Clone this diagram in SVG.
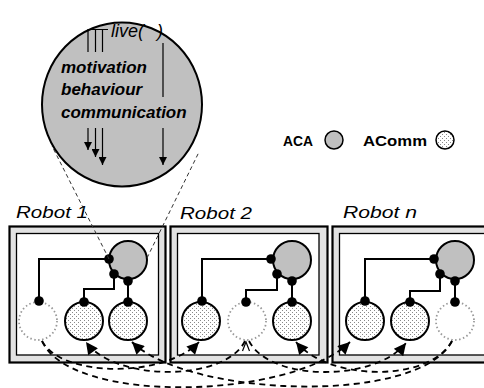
<svg xmlns="http://www.w3.org/2000/svg" width="484" height="388" viewBox="0 0 484 388">
  <style>
    .box-outer { fill: #e2e2e2; stroke: #000; stroke-width: 2.2; }
    .box-inner { fill: #fff; stroke: #000; stroke-width: 1.3; }
    .label { font-family: "Liberation Sans", Arial, sans-serif; font-style: italic; font-size: 16px; fill: #000; }
    .legend { font-family: "Liberation Sans", Arial, sans-serif; font-weight: bold; font-size: 14px; fill: #000; }
    .zoom-text { font-family: "Liberation Sans", Arial, sans-serif; font-style: italic; font-weight: bold; font-size: 17px; fill: #000; }
    .aca { fill: #c0c0c0; stroke: #000; stroke-width: 2; }
    .acomm { fill: url(#stipple); stroke: #000; stroke-width: 2; }
    .idle { fill: #fff; stroke: #999; stroke-width: 1.8; stroke-dasharray: 1.5 2.5; }
    .port { fill: #000; }
    .wire { fill: none; stroke: #000; stroke-width: 2; }
    .msg { fill: none; stroke: #000; stroke-width: 1.8; stroke-dasharray: 6 4.5; }
    .lens { fill: none; stroke: #333; stroke-width: 1; stroke-dasharray: 4 3; }
    .flow { fill: none; stroke: #000; stroke-width: 1.2; }
  </style>
  <defs>
    <pattern id="stipple" width="4" height="4" patternUnits="userSpaceOnUse">
      <rect width="4" height="4" fill="#fff"/>
      <rect x="0" y="0" width="1" height="1" fill="#888"/>
      <rect x="2" y="2" width="1" height="1" fill="#888"/>
    </pattern>
    <marker id="head" viewBox="0 0 10 10" refX="10" refY="5" markerWidth="14" markerHeight="12" markerUnits="userSpaceOnUse" orient="auto">
      <path d="M0,0 L10,5 L0,10 z" fill="#000"/>
    </marker>
    <marker id="head-small" viewBox="0 0 10 10" refX="10" refY="5" markerWidth="11" markerHeight="8" markerUnits="userSpaceOnUse" orient="auto">
      <path d="M0,0 L10,5 L0,10 z" fill="#000"/>
    </marker>
  </defs>

  <rect width="484" height="388" fill="#fff"/>

  <!-- legend -->
  <g id="legend">
    <text class="legend" x="283" y="146" textLength="30" lengthAdjust="spacingAndGlyphs">ACA</text>
    <circle cx="334" cy="140" r="9" fill="#c0c0c0" stroke="#000" stroke-width="1.5"/>
    <text class="legend" x="363" y="146" textLength="64" lengthAdjust="spacingAndGlyphs">AComm</text>
    <circle cx="445" cy="140" r="9" fill="url(#stipple)" stroke="#000" stroke-width="1.5"/>
  </g>

  <!-- robot 1 -->
  <g id="robot1">
    <text class="label" x="16" y="218" textLength="72" lengthAdjust="spacingAndGlyphs">Robot 1</text>
    <rect class="box-outer" x="9.5" y="226.5" width="156" height="136"/>
    <rect class="box-inner" x="16.5" y="233.5" width="142" height="121.5"/>
    <path class="wire" d="M109,259 H39 V301 M114,274 V289 H84 V302 M128,281 V302"/>
    <circle class="aca" cx="128" cy="260" r="19"/>
    <circle class="idle" cx="38" cy="321" r="19"/>
    <circle class="acomm" cx="84" cy="321" r="19"/>
    <circle class="acomm" cx="128" cy="321" r="19"/>
    <circle class="port" cx="109" cy="259" r="4.8"/>
    <circle class="port" cx="114" cy="274" r="4.8"/>
    <circle class="port" cx="128" cy="281" r="4.8"/>
    <circle class="port" cx="39" cy="301" r="4.8"/>
    <circle class="port" cx="84" cy="302" r="4.8"/>
    <circle class="port" cx="128" cy="302" r="4.8"/>
  </g>

  <!-- robot 2 -->
  <g id="robot2">
    <text class="label" x="180" y="219" textLength="72" lengthAdjust="spacingAndGlyphs">Robot 2</text>
    <rect class="box-outer" x="170.5" y="226.5" width="157" height="136"/>
    <rect class="box-inner" x="177.5" y="233.5" width="141.5" height="121.5"/>
    <path class="wire" d="M271,259 H202 V301 M277,274 V290 H246 V302 M292,281 V302"/>
    <circle class="aca" cx="292" cy="260" r="19"/>
    <circle class="acomm" cx="201" cy="321" r="19"/>
    <circle class="idle" cx="247" cy="321" r="19"/>
    <circle class="acomm" cx="292" cy="321" r="19"/>
    <circle class="port" cx="271" cy="259" r="4.8"/>
    <circle class="port" cx="277" cy="274" r="4.8"/>
    <circle class="port" cx="292" cy="281" r="4.8"/>
    <circle class="port" cx="202" cy="301" r="4.8"/>
    <circle class="port" cx="246" cy="302" r="4.8"/>
    <circle class="port" cx="292" cy="302" r="4.8"/>
  </g>

  <!-- robot n -->
  <g id="robotn">
    <text class="label" x="343" y="218" textLength="74" lengthAdjust="spacingAndGlyphs">Robot n</text>
    <rect class="box-outer" x="332.5" y="226.5" width="160" height="136"/>
    <rect class="box-inner" x="339.5" y="233.5" width="150" height="121.5"/>
    <path class="wire" d="M434,259 H365 V301 M440,274 V291 H410 V302 M455,281 V302"/>
    <circle class="aca" cx="455" cy="260" r="19"/>
    <circle class="acomm" cx="365" cy="321" r="19"/>
    <circle class="acomm" cx="410" cy="321" r="19"/>
    <circle class="idle" cx="455" cy="321" r="19"/>
    <circle class="port" cx="434" cy="259" r="4.8"/>
    <circle class="port" cx="440" cy="274" r="4.8"/>
    <circle class="port" cx="455" cy="281" r="4.8"/>
    <circle class="port" cx="365" cy="301" r="4.8"/>
    <circle class="port" cx="410" cy="302" r="4.8"/>
    <circle class="port" cx="455" cy="302" r="4.8"/>
  </g>

  <!-- message links between robots, and the lens outline -->
  <g id="connectors">
    <path class="msg" d="M42,341 C62,378 165,378 199,342" marker-end="url(#head)"/>
    <path class="msg" d="M42,341 C70,405 290,400 350,342" marker-end="url(#head)"/>
    <path class="msg" d="M245,341 C225,382 115,382 86,342" marker-end="url(#head)"/>
    <path class="msg" d="M249,341 C270,382 375,382 406,343" marker-end="url(#head)"/>
    <path class="msg" d="M452,341 C420,405 190,398 132,342" marker-end="url(#head)"/>
    <path class="msg" d="M452,341 C430,382 330,382 296,342" marker-end="url(#head)"/>
    <path d="M242.5,351 L246,342 L249.5,351" fill="none" stroke="#000" stroke-width="1.2"/>
    <path class="lens" d="M109,259 L52,146"/>
    <path class="lens" d="M147,258 L199,152"/>
  </g>

  <!-- magnified view of the control loop inside the ACA -->
  <g id="aca-detail">
    <ellipse cx="122" cy="104.5" rx="80" ry="82" fill="#c0c0c0" stroke="#000" stroke-width="2"/>
    <path class="flow" d="M88,52 V29.5 H108 M95.5,29.5 V52 M102.5,29.5 V52"/>
    <text x="111" y="37" font-family="Liberation Sans, Arial, sans-serif" font-style="italic" font-size="18" fill="#000">live( <tspan dx="8">)</tspan></text>
    <text class="zoom-text" x="61" y="73">motivation</text>
    <text class="zoom-text" x="61" y="95">behaviour</text>
    <text class="zoom-text" x="61" y="118">communication</text>
    <path class="flow" d="M163,43 V97"/>
    <path class="flow" d="M163,128 V165" marker-end="url(#head-small)"/>
    <path class="flow" d="M88,128 V150" marker-end="url(#head-small)"/>
    <path class="flow" d="M95.5,128 V157" marker-end="url(#head-small)"/>
    <path class="flow" d="M102.5,128 V165" marker-end="url(#head-small)"/>
  </g>
</svg>
